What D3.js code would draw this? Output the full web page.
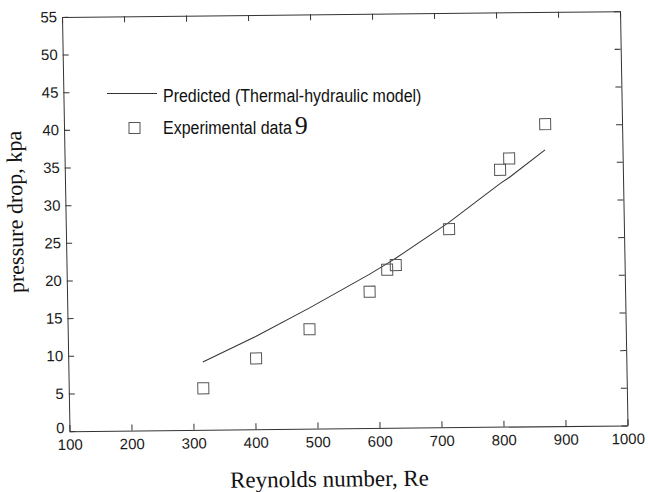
<!DOCTYPE html>
<meta charset="utf-8">
<style>
body { margin: 0; background: #fff; }
.axis path, .axis line { stroke: #333; stroke-width: 1px; }
.axis text { font-family: "Liberation Sans", Arial, sans-serif; font-size: 15px; fill: #1a1a1a; }
.model { fill: none; stroke: #333; stroke-width: 1px; }
.exp { fill: none; stroke: #555; stroke-width: 1px; }
.title { font-family: "Liberation Serif", "Times New Roman", serif; fill: #111; }
.legend text { font-family: "Liberation Sans", Arial, sans-serif; font-size: 16px; fill: #111; }
</style>
<svg width="648" height="492"></svg>
<script src="https://cdn.jsdelivr.net/npm/d3@7"></script>
<script>

// experimental points (Re, pressure drop in kPa)
var reynolds = [317, 403, 490, 588, 617, 631, 718, 802, 817, 876];
var dpExperimental = [5.5, 9.4, 13.2, 18.1, 21.0, 21.6, 26.3, 34.1, 35.6, 40.1];

// thermal-hydraulic model curve
var reynoldsModel = [317, 403, 490, 588, 617, 631, 718, 802, 817, 875];
var dpPredicted = [9.0, 12.3, 16.0, 20.4, 21.8, 22.5, 27.2, 32.3, 33.1, 36.7];

var xTicks = [100, 200, 300, 400, 500, 600, 700, 800, 900, 1000];
var yTicks = [0, 5, 10, 15, 20, 25, 30, 35, 40, 45, 50, 55];

var svg = d3.select("svg"),
    width = 558,
    height = 413;

// the scanned figure is slightly skewed, so the plot frame gets a small affine transform
var g = svg.append("g")
    .attr("transform", "matrix(1,-0.0103,0.0182,1.003,62,16.9)");

var x = d3.scaleLinear().domain([100, 1000]).range([0, width]);
var y = d3.scaleLinear().domain([0, 55]).range([height, 0]);

g.append("g")
    .attr("class", "axis")
    .attr("transform", "translate(0," + height + ")")
    .call(d3.axisBottom(x).tickValues(xTicks).tickFormat(d3.format("d"))
      .tickSizeInner(-6).tickSizeOuter(0).tickPadding(8));

g.append("g")
    .attr("class", "axis")
    .call(d3.axisTop(x).tickValues(xTicks).tickSizeInner(-6).tickSizeOuter(0).tickFormat(""));

var yAxis = g.append("g")
    .attr("class", "axis")
    .call(d3.axisLeft(y).tickValues(yTicks).tickSizeInner(-6).tickSizeOuter(0).tickPadding(5));
// the zero label sits a touch above the corner
yAxis.selectAll(".tick text").filter(function(d) { return d === 0; }).attr("dy", "0.1em");

g.append("g")
    .attr("class", "axis")
    .attr("transform", "translate(" + width + ",0)")
    .call(d3.axisRight(y).tickValues(yTicks).tickSizeInner(-6).tickSizeOuter(0).tickFormat(""));

var line = d3.line()
    .x(function(d) { return x(d[0]); })
    .y(function(d) { return y(d[1]); });

g.append("path")
    .datum(d3.zip(reynoldsModel, dpPredicted))
    .attr("class", "model")
    .attr("d", line);

var sq = 11;
g.selectAll(".exp")
    .data(d3.zip(reynolds, dpExperimental))
  .enter().append("rect")
    .attr("class", "exp")
    .attr("x", function(d) { return x(d[0]) - sq / 2; })
    .attr("y", function(d) { return y(d[1]) - sq / 2; })
    .attr("width", sq)
    .attr("height", sq);

// legend (kept level, page coordinates)
var legend = svg.append("g").attr("class", "legend");
legend.append("line")
    .attr("class", "model")
    .attr("x1", 107).attr("x2", 157)
    .attr("y1", 93.5).attr("y2", 93.5);
legend.append("text")
    .attr("transform", "translate(163,101.5) scale(1,1.1)")
    .text("Predicted (Thermal-hydraulic model)");
legend.append("rect")
    .attr("class", "exp")
    .attr("x", 134.5 - sq / 2).attr("y", 128 - sq / 2)
    .attr("width", sq).attr("height", sq);
var expLabel = legend.append("text")
    .attr("transform", "translate(163,133.5) scale(1,1.1)")
    .text("Experimental data");
legend.append("text")
    .attr("x", 163 + expLabel.node().getComputedTextLength() + 3).attr("y", 133.5)
    .style("font-family", "'Liberation Serif', 'Times New Roman', serif")
    .style("font-size", "26px")
    .text("9");

// axis titles
g.append("text")
    .attr("class", "title")
    .attr("x", 259).attr("y", 471)
    .attr("text-anchor", "middle")
    .style("font-size", "23px")
    .text("Reynolds number, Re");

g.append("text")
    .attr("class", "title")
    .attr("transform", "translate(-43,194) rotate(-90)")
    .attr("text-anchor", "middle")
    .style("font-size", "22px")
    .text("pressure drop, kpa");

</script>
